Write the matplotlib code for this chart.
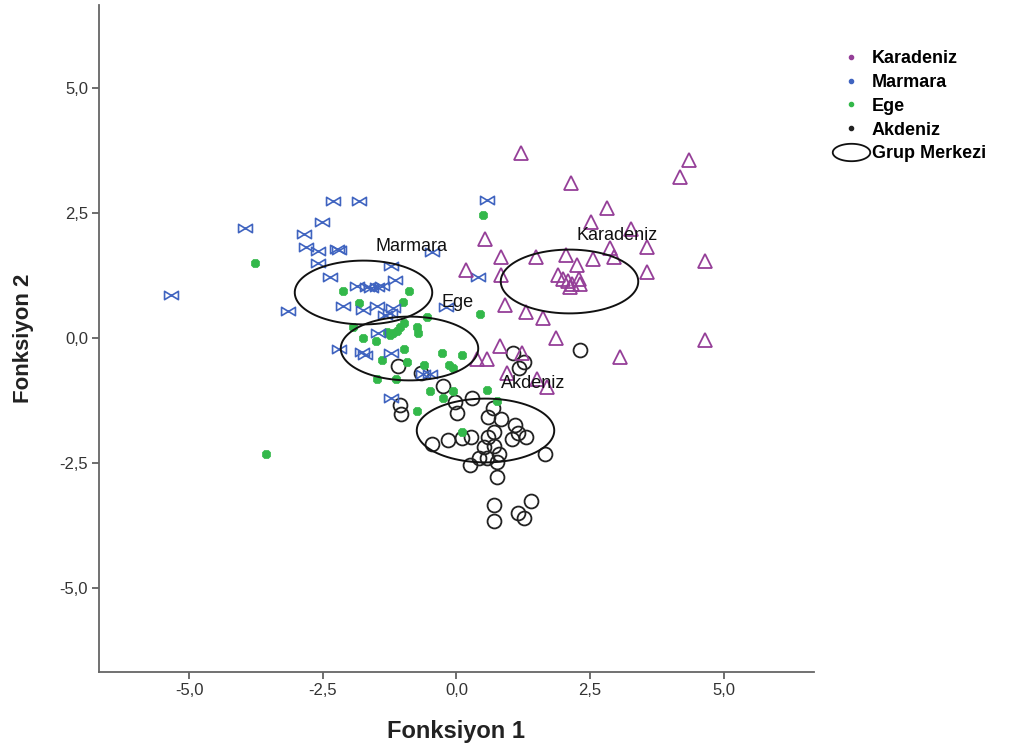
import numpy as np
import matplotlib
matplotlib.use("Agg")
import matplotlib.pyplot as plt
from matplotlib.path import Path
from matplotlib.lines import Line2D
from matplotlib.ticker import FuncFormatter

plt.rcParams['font.family'] = ['Liberation Sans', 'DejaVu Sans']

# Diskriminant fonksiyon skorlari
kara_x = [1.20, 2.15, 4.34, 4.18, 2.81, 2.52, 3.27, 3.56, 0.53, 0.84, 1.48, 2.04, 2.55, 2.94,
          2.87, 2.25, 4.64, 0.17, 0.84, 1.90, 1.99, 2.08, 2.17, 2.30, 2.12, 2.32, 3.56, 0.90,
          1.31, 1.61, 1.86, 4.64, 0.82, 0.38, 0.57, 1.22, 3.05, 0.94, 1.50, 1.70]
kara_y = [3.70, 3.10, 3.56, 3.22, 2.60, 2.33, 2.19, 1.83, 1.99, 1.63, 1.63, 1.67, 1.59, 1.63,
          1.81, 1.47, 1.55, 1.37, 1.27, 1.27, 1.19, 1.15, 1.09, 1.19, 1.03, 1.09, 1.33, 0.66,
          0.52, 0.40, 0.00, -0.04, -0.16, -0.42, -0.42, -0.30, -0.38, -0.70, -0.82, -0.97]

marm_x = [-5.33, -3.96, -2.85, -2.31, -1.83, -2.52, -2.81, -2.59, -2.24, -2.19, -2.59, -2.37,
          -3.14, -2.12, -1.86, -1.68, -1.59, -1.49, -1.40, -1.15, -1.22, -0.46, 0.57, 0.40,
          -0.20, -1.75, -1.49, -1.19, -1.34, -1.24, -2.19, -1.77, -1.70, -1.22, -1.47, -0.62,
          -0.50, -1.22]
marm_y = [0.87, 2.21, 2.09, 2.74, 2.74, 2.33, 1.83, 1.75, 1.79, 1.77, 1.51, 1.23,
          0.54, 0.64, 1.05, 1.03, 1.01, 1.03, 1.05, 1.17, 1.45, 1.73, 2.76, 1.23,
          0.62, 0.56, 0.64, 0.60, 0.46, 0.50, -0.22, -0.28, -0.34, -0.30, 0.10, -0.72,
          -0.72, -1.19]

ege_x = [-3.76, -3.56, 0.49, -2.12, -0.89, -1.00, -1.83, 0.44, -0.55, -1.94, -1.30, -1.24,
         -1.19, -1.11, -1.06, -0.98, -0.74, -0.71, -1.75, -1.51, -0.98, -0.27, 0.11, -0.13,
         -0.07, -1.40, -0.93, -0.60, -1.49, -1.13, -0.50, -0.26, -0.07, 0.57, -0.74, 0.75, 0.11]
ege_y = [1.51, -2.31, 2.47, 0.95, 0.95, 0.72, 0.70, 0.48, 0.42, 0.22, 0.12, 0.06,
         0.10, 0.14, 0.22, 0.30, 0.22, 0.10, 0.00, -0.06, -0.22, -0.30, -0.34, -0.54,
         -0.60, -0.44, -0.48, -0.54, -0.82, -0.82, -1.05, -1.19, -1.05, -1.03, -1.45, -1.25, -1.87]

akd_x = [1.06, 1.26, 1.17, 2.32, -0.26, -0.02, 0.29, 0.02, 0.68, 0.60, 0.84, 1.09, 1.15,
         1.31, 1.04, 0.70, 0.60, 0.71, 0.51, 0.27, 0.10, -0.16, -0.46, 0.42, 0.57, 0.79,
         0.75, 0.25, 0.75, 1.65, 0.71, 1.39, 1.15, 1.26, 0.70, -1.10, -1.06, -1.04, -0.67]
akd_y = [-0.30, -0.48, -0.60, -0.24, -0.95, -1.27, -1.19, -1.49, -1.39, -1.57, -1.61, -1.73, -1.89,
         -1.97, -2.01, -1.87, -1.97, -2.15, -2.17, -1.97, -1.99, -2.03, -2.11, -2.39, -2.39, -2.31,
         -2.47, -2.54, -2.78, -2.31, -3.34, -3.26, -3.50, -3.60, -3.66, -0.56, -1.33, -1.51, -0.70]

# grup merkezleri
gruplar = ['Karadeniz', 'Marmara', 'Ege', 'Akdeniz']
merkez_x = [2.10, -1.75, -0.89, 0.53]
merkez_y = [1.15, 0.93, -0.19, -1.83]

mor = '#953f98'
mavi = '#4064c0'
yesil = '#33b84a'
siyah = '#222222'

# ozel isaretler: kelebek (Marmara) ve elips (grup merkezi)
kelebek = Path([(-1, -0.6), (-1, 0.6), (1, -0.6), (1, 0.6), (-1, -0.6)],
               [Path.MOVETO, Path.LINETO, Path.LINETO, Path.LINETO, Path.CLOSEPOLY])
t = np.linspace(0, 2 * np.pi, 100)
elips = Path(np.column_stack([np.cos(t), 0.464 * np.sin(t)]), closed=True)

fig = plt.figure(figsize=(10.12, 7.51), dpi=100)
ax = fig.add_axes([0.098, 0.1056, 0.706, 0.8877])

ax.plot(akd_x, akd_y, ls='none', marker='o', ms=10, mfc='none', mec=siyah, mew=1.3)
ax.plot(ege_x, ege_y, ls='none', marker='8', ms=6.5, mfc=yesil, mec=yesil, mew=0.5)
ax.plot(marm_x, marm_y, ls='none', marker=kelebek, ms=10, mfc='none', mec=mavi, mew=1.2)
ax.plot(kara_x, kara_y, ls='none', marker='^', ms=10, mfc='none', mec=mor, mew=1.3)

ax.plot(merkez_x, merkez_y, ls='none', marker=elips, ms=99, mfc='none', mec='#111111', mew=1.4)
for g, x, y in zip(gruplar, merkez_x, merkez_y):
    ax.annotate(g, (x, y), xytext=(35, 33), textcoords='offset points',
                ha='center', va='center', fontsize=13, color='#111111')

ax.set_xlim(-6.68, 6.68)
ax.set_ylim(-6.67, 6.67)
ax.set_xticks([-5, -2.5, 0, 2.5, 5])
ax.set_yticks([-5, -2.5, 0, 2.5, 5])
fmt = FuncFormatter(lambda v, p: f'{v:.1f}'.replace('.', ','))
ax.xaxis.set_major_formatter(fmt)
ax.yaxis.set_major_formatter(fmt)
ax.tick_params(length=5, width=1.2, color='#555555', labelsize=12, labelcolor='#333333', pad=3)

for s in ['top', 'right']:
    ax.spines[s].set_visible(False)
for s in ['left', 'bottom']:
    ax.spines[s].set_color('#666666')
    ax.spines[s].set_linewidth(1.3)

ax.set_xlabel('Fonksiyon 1', fontsize=17, fontweight='bold', color='#222222', labelpad=16)
ax.set_ylabel('Fonksiyon 2', fontsize=16, fontweight='bold', color='#222222', labelpad=18)

renkler = [mor, mavi, yesil, siyah]
kolu = [Line2D([], [], ls='none', marker='o', ms=3, color=c) for c in renkler]
kolu.append(Line2D([], [], ls='none', marker=elips, ms=27, mfc='none', mec='#111111', mew=1.3))
fig.legend(kolu, gruplar + ['Grup Merkezi'], loc='upper left', bbox_to_anchor=(0.815, 0.943),
           frameon=False, prop={'weight': 'bold', 'size': 13}, handlelength=2.1,
           handletextpad=0.1, labelspacing=0.38, borderaxespad=0)

fig.savefig('out.png', dpi=100)
